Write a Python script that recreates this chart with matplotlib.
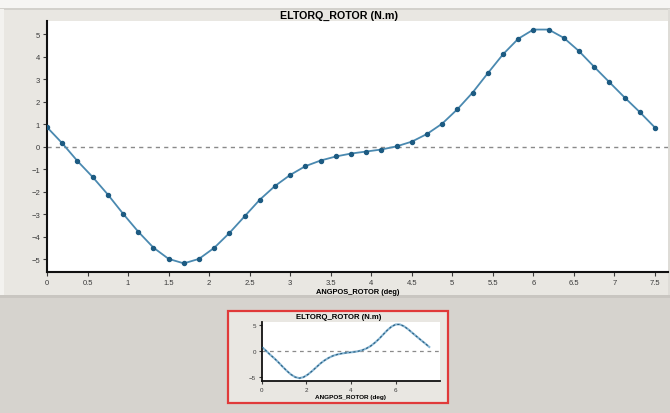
# ELTORQ_ROTOR のグラフ再現スクリプト

import matplotlib
matplotlib.use('Agg')
import matplotlib.pyplot as plt
from matplotlib.patches import Rectangle

W, H = 670, 414  # 画像サイズ (px)

# データ
angle = [0, 0.1875, 0.375, 0.5625, 0.75, 0.9375, 1.125, 1.3125, 1.5, 1.6875,
         1.875, 2.0625, 2.25, 2.4375, 2.625, 2.8125, 3.0, 3.1875, 3.375, 3.5625,
         3.75, 3.9375, 4.125, 4.3125, 4.5, 4.6875, 4.875, 5.0625, 5.25, 5.4375,
         5.625, 5.8125, 6.0, 6.1875, 6.375, 6.5625, 6.75, 6.9375, 7.125, 7.3125, 7.5]
torque = [0.86, 0.15, -0.64, -1.35, -2.13, -2.98, -3.78, -4.49, -4.99, -5.19,
          -4.99, -4.50, -3.84, -3.10, -2.36, -1.75, -1.26, -0.87, -0.62, -0.44,
          -0.31, -0.22, -0.13, 0.01, 0.22, 0.56, 1.02, 1.66, 2.40, 3.26,
          4.10, 4.79, 5.20, 5.20, 4.83, 4.24, 3.54, 2.86, 2.18, 1.53, 0.84]
main_xticks = [0, 0.5, 1, 1.5, 2, 2.5, 3, 3.5, 4, 4.5, 5, 5.5, 6, 6.5, 7, 7.5]
main_yticks = [-5, -4, -3, -2, -1, 0, 1, 2, 3, 4, 5]
thumb_xticks = [0, 2, 4, 6]
thumb_yticks = [-5, 0, 5]

title = 'ELTORQ_ROTOR (N.m)'
xlabel = 'ANGPOS_ROTOR (deg)'

plt.rcParams['font.family'] = ['Liberation Sans', 'DejaVu Sans']

line_color = '#4a89b0'
marker_color = '#1d5b82'


def fig_rect(x0, y0, x1, y1):
    # ピクセル座標(左上原点)から figure 座標へ
    return x0 / W, 1 - y1 / H, (x1 - x0) / W, (y1 - y0) / H


fig = plt.figure(figsize=(W / 100, H / 100), dpi=100, facecolor='#e9e7e2')

# 背景のパネル (軸より下に描く)
def add_panel(x0, y0, x1, y1, color, **kw):
    l, b, w, h = fig_rect(x0, y0, x1, y1)
    fig.patches.append(Rectangle((l, b), w, h, transform=fig.transFigure,
                                 facecolor=color, zorder=-1, **kw))

add_panel(0, 0, W, 9, '#f6f5f3', edgecolor='none')
add_panel(0, 9, W, 10.5, '#d3d1cc', edgecolor='none')
add_panel(0, 10, 4, 296, '#f3f2ef', edgecolor='none')
add_panel(0, 296, W, 299, '#c9c6c1', edgecolor='none')
add_panel(0, 299, W, H, '#d6d3ce', edgecolor='none')
add_panel(668, 10, W, 296, '#dedcd7', edgecolor='none')
add_panel(228, 312, 448, 404, '#e9e7e2', edgecolor='#e03a3a', linewidth=1.6)

# メインのグラフ
ax = fig.add_axes(fig_rect(47, 22, 668, 272.7))
ax.set_facecolor('white')
ax.axhline(0, color='#8a8a8a', linewidth=1, linestyle=(0, (3, 3)), zorder=1)
ax.plot(angle, torque, color=line_color, linewidth=1.3, zorder=2)
ax.plot(angle, torque, 'o', color=marker_color, markersize=2.9, zorder=3)
ax.set_xlim(0, 7.66)
ax.set_ylim(-5.56, 5.58)
ax.set_xticks(main_xticks)
ax.set_xticklabels(['%g' % t for t in main_xticks])
ax.set_yticks(main_yticks)
ax.tick_params(labelsize=5.5, length=3, width=0.8, pad=2, colors='#3a3a3a')
for s in ['top', 'right']:
    ax.spines[s].set_visible(False)
for s in ['left', 'bottom']:
    ax.spines[s].set_linewidth(1.5)
    ax.spines[s].set_color('#111111')
ax.set_xlabel(xlabel, fontsize=5.4, fontweight='bold', labelpad=2)
fig.text(339 / W, 1 - 15.5 / H, title, fontsize=7.7, fontweight='bold',
         ha='center', va='center')

# サムネイル
tax = fig.add_axes(fig_rect(261.7, 322.7, 440, 382))
tax.set_facecolor('white')
tax.axhline(0, color='#8a8a8a', linewidth=0.9, linestyle=(0, (3, 3)), zorder=1)
tax.plot(angle, torque, color='#86b5d3', linewidth=1.5, zorder=2)
tax.plot(angle, torque, color='#2a5f80', linewidth=0.8, linestyle=(0, (2, 2)), zorder=3)
tax.set_xlim(0, 7.98)
tax.set_ylim(-5.74, 5.73)
tax.set_xticks(thumb_xticks)
tax.set_yticks(thumb_yticks)
tax.tick_params(labelsize=4.5, length=2.5, width=0.8, pad=1.5, colors='#3a3a3a')
for s in ['top', 'right']:
    tax.spines[s].set_visible(False)
for s in ['left', 'bottom']:
    tax.spines[s].set_linewidth(1.3)
    tax.spines[s].set_color('#111111')
tax.set_xlabel(xlabel, fontsize=4.6, fontweight='bold', labelpad=2)
fig.text(338.7 / W, 1 - 318 / H, title, fontsize=5.6, fontweight='bold',
         ha='center', va='center')

fig.savefig('out.png', dpi=100, facecolor=fig.get_facecolor())
